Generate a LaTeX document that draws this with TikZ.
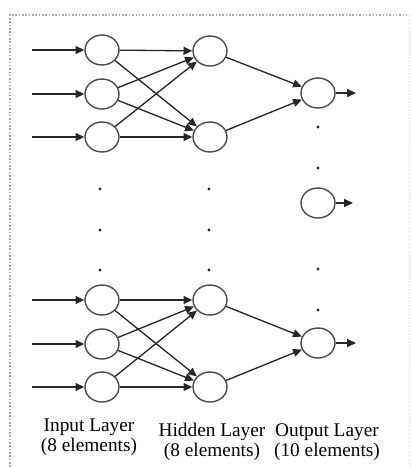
\documentclass[tikz,border=0pt]{standalone}
\usepackage{fontspec}
\setmainfont{Liberation Serif}
\usetikzlibrary{arrows.meta, positioning, shapes.geometric}
\colorlet{FrameLine}{gray!65}
\colorlet{NodeLine}{black!70}
\colorlet{EdgeLine}{black!85}
\newcommand{\skipdot}[2]{% x, y
    \fill[EdgeLine] (#1,#2) circle (0.9pt);
}

\begin{document}
\begin{tikzpicture}[
    x=0.02cm, y=-0.02cm,
    neuron/.style={ellipse, draw=NodeLine, line width=0.8pt,
        minimum width=0.68cm, minimum height=0.60cm, inner sep=0pt},
    arr/.style={-{Triangle[length=5pt, width=4.5pt]}, EdgeLine, line width=0.75pt},
    lbl/.style={font=\fontsize{11}{11.2}\selectfont, align=center}
]
\useasboundingbox (0,0) rectangle (412,467);

% ===================================================================
% FRAME
% ===================================================================
\draw[FrameLine, densely dotted, line width=0.9pt] (10,467) -- (10,15) -- (409,15);
\draw[FrameLine!50, densely dotted, line width=0.5pt] (409,15) -- (409,467);

% ===================================================================
% INPUT LAYER
% ===================================================================
\foreach \y [count=\i] in {50,94,137,300,344,387} {
    \node[neuron] (in\i) at (102,\y) {};
    \coordinate (src\i) at (32,\y);
    \draw[arr] (src\i) -- (in\i);
}
\foreach \y in {189,230,270} {
    \skipdot{100}{\y}
}

% ===================================================================
% HIDDEN LAYER
% ===================================================================
\foreach \y [count=\i] in {51,137,300,387} {
    \node[neuron] (hid\i) at (210,\y) {};
}
\foreach \y in {189,230,270} {
    \skipdot{209}{\y}
}

% Input -> hidden
\foreach \a in {1,2,3} {
    \foreach \b in {1,2} {
        \draw[arr] (in\a) -- (hid\b);
    }
}
\foreach \a in {4,5,6} {
    \foreach \b in {3,4} {
        \draw[arr] (in\a) -- (hid\b);
    }
}

% ===================================================================
% OUTPUT LAYER
% ===================================================================
\foreach \y/\x [count=\i] in {93/356,203/353,343/356} {
    \node[neuron] (out\i) at (318,\y) {};
    \coordinate (sink\i) at (\x,\y);
    \draw[arr] (out\i) -- (sink\i);
}
\foreach \y in {127,168,269,310} {
    \skipdot{318}{\y}
}

% Hidden -> output
\draw[arr] (hid1) -- (out1);
\draw[arr] (hid2) -- (out1);
\draw[arr] (hid3) -- (out3);
\draw[arr] (hid4) -- (out3);

% Labels
\node[lbl] (inlbl) at (89,437) {Input Layer\\(8 elements)};
\node[lbl] (hidlbl) at (212,442) {Hidden Layer\\(8 elements)};
\node[lbl] (outlbl) at (327,442) {Output Layer\\(10 elements)};

\end{tikzpicture}
\end{document}
